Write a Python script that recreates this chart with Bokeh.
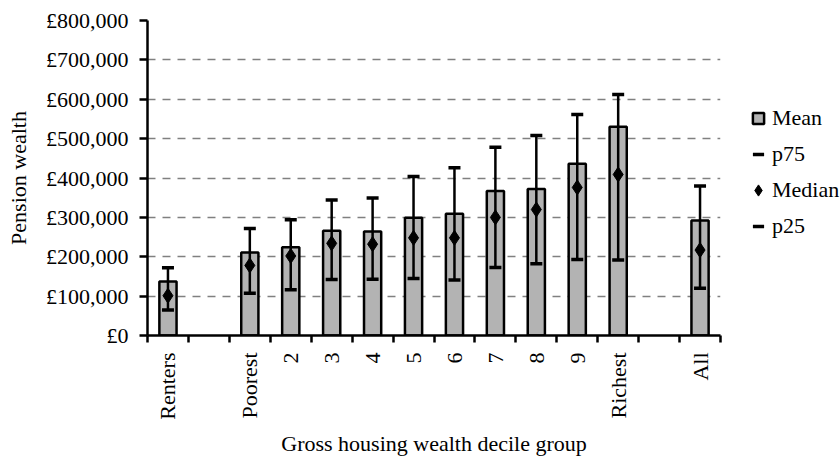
from math import pi
from bokeh.plotting import figure
from bokeh.models import Range1d, FixedTicker, Legend, LegendItem, ColumnDataSource
from bokeh.embed import file_html
from bokeh.resources import INLINE

slots = ["Renters", "", "Poorest", "2", "3", "4", "5", "6", "7", "8", "9", "Richest", "", "All"]
categories = ["Renters", "Poorest", "2", "3", "4", "5", "6", "7", "8", "9", "Richest", "All"]
mean = [137000, 211000, 224000, 266000, 264000, 299000, 309000, 367000, 372000, 436000, 530000, 292000]
p75 = [172000, 272000, 294000, 344000, 349000, 404000, 426000, 478000, 508000, 561000, 612000, 380000]
median = [101000, 178000, 202000, 234000, 232000, 248000, 248000, 300000, 320000, 376000, 409000, 217000]
p25 = [65000, 107000, 116000, 142000, 143000, 145000, 141000, 173000, 182000, 193000, 192000, 120000]
yticks = [0, 100000, 200000, 300000, 400000, 500000, 600000, 700000, 800000]
ytick_labels = ["£0", "£100,000", "£200,000", "£300,000", "£400,000", "£500,000", "£600,000", "£700,000", "£800,000"]

FONT = "Liberation Serif"
FS = "22px"
BAR_FILL = "#b3b3b3"

xs = [slots.index(c) + 0.5 for c in categories]
src = ColumnDataSource(dict(x=xs, cat=categories, mean=mean, p75=p75, median=median, p25=p25))

p = figure(frame_width=573, frame_height=315, output_backend="svg", toolbar_location=None,
           x_range=Range1d(0, len(slots)), y_range=Range1d(0, 800000),
           min_border_left=147, min_border_right=120, min_border_top=20, min_border_bottom=4)
p.outline_line_color = None
p.background_fill_color = "white"
p.border_fill_color = "white"

# legend swatch for the mean bars: drawn first, fully hidden behind the opaque bars
rmean_key = p.scatter(x="x", y="median", source=src, marker="square", size=12,
                      fill_color=BAR_FILL, line_color="black", line_width=2.5)
p.vbar(x="x", top="mean", width=0.42, bottom=0, source=src,
       fill_color=BAR_FILL, line_color="black", line_width=2.5)
p.segment(x0="x", y0="p25", x1="x", y1="p75", source=src, line_color="black", line_width=2.5)
r75 = p.scatter(x="x", y="p75", source=src, marker="dash", size=12, line_color="black", line_width=3.5)
r25 = p.scatter(x="x", y="p25", source=src, marker="dash", size=12, line_color="black", line_width=3.5)
rmed = p.scatter(x="x", y="median", source=src, marker="diamond", size=15,
                 fill_color="black", line_color="black")

# x axis
p.xaxis.ticker = FixedTicker(ticks=[i + 0.5 for i in range(len(slots))],
                             minor_ticks=list(range(len(slots) + 1)))
p.xaxis.major_label_overrides = {i + 0.5: s for i, s in enumerate(slots)}
p.xaxis.major_label_orientation = pi / 2
p.xaxis.major_tick_out = 0
p.xaxis.major_tick_in = 0
p.xaxis.minor_tick_out = 7
p.xaxis.minor_tick_in = 0
p.xaxis.minor_tick_line_width = 2.5
p.xaxis.minor_tick_line_color = "black"
p.xaxis.axis_line_width = 2.5
p.xaxis.axis_line_color = "black"
p.xaxis.axis_label = "Gross housing wealth decile group"
p.xaxis.major_label_standoff = 10
p.xaxis.axis_label_standoff = 8

# y axis
p.yaxis.ticker = FixedTicker(ticks=yticks)
p.yaxis.major_label_overrides = {t: l for t, l in zip(yticks, ytick_labels)}
p.yaxis.major_tick_out = 8
p.yaxis.major_tick_in = 0
p.yaxis.major_tick_line_width = 2.5
p.yaxis.minor_tick_line_color = None
p.yaxis.axis_line_width = 2.5
p.yaxis.axis_line_color = "black"
p.yaxis.axis_label = "Pension wealth"
p.yaxis.major_label_standoff = 11
p.yaxis.axis_label_standoff = 12

for ax in (p.xaxis, p.yaxis):
    ax.major_label_text_font = FONT
    ax.major_label_text_font_size = FS
    ax.major_label_text_color = "black"
    ax.axis_label_text_font = FONT
    ax.axis_label_text_font_size = FS
    ax.axis_label_text_font_style = "normal"
    ax.axis_label_text_color = "black"

p.xgrid.grid_line_color = None
p.ygrid.grid_line_color = "#808080"
p.ygrid.grid_line_dash = "8 7"
p.ygrid.grid_line_width = 1.5

legend = Legend(items=[
    LegendItem(label="Mean", renderers=[rmean_key]),
    LegendItem(label="p75", renderers=[r75]),
    LegendItem(label="Median", renderers=[rmed]),
    LegendItem(label="p25", renderers=[r25]),
], location=(24, 95), border_line_color=None, background_fill_alpha=0,
    label_text_font=FONT, label_text_font_size=FS, label_text_color="black",
    glyph_width=28, glyph_height=28, spacing=8, label_standoff=0, padding=0, margin=0)
p.add_layout(legend, "right")

open("out.html", "w").write(file_html(p, INLINE))
